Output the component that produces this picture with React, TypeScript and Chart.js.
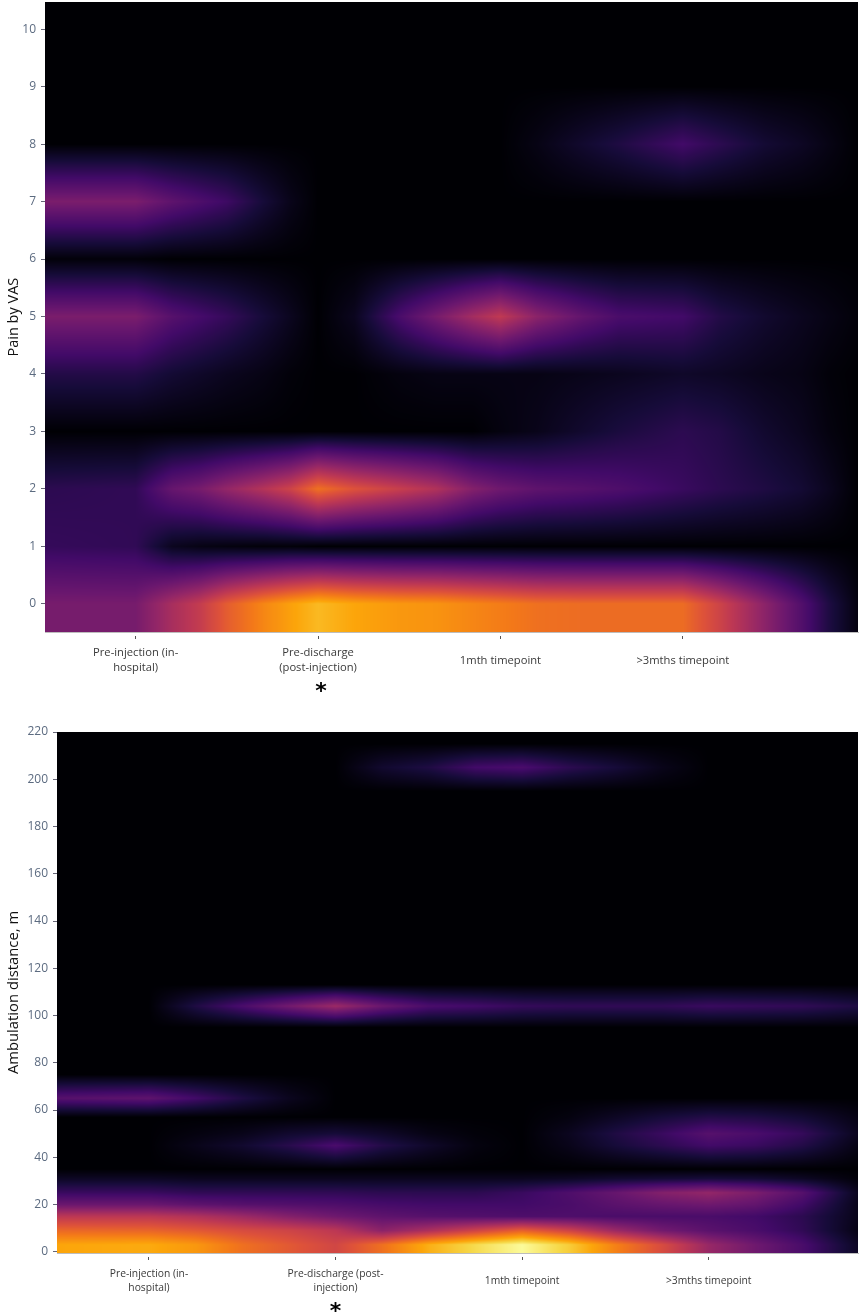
import React, { useEffect, useRef } from "react";
import { Chart, registerables } from "chart.js";

Chart.register(...registerables);

// ---------- Chart 1: Pain by VAS ----------
const painLabels = [["Pre-injection (in-", "hospital)"], ["Pre-discharge", "(post-injection)"], ["1mth timepoint"], [">3mths timepoint"]];
const painTicksX = [0, 1, 2, 3];
const painTicksY = [0, 1, 2, 3, 4, 5, 6, 7, 8, 9, 10];
const painColumns = [-0.5, 0, 0.2, 0.35, 0.5, 0.7, 0.85, 1, 1.2, 1.45, 1.65, 1.85, 2, 2.2, 2.45, 2.65, 3, 3.2, 3.45, 3.65, 3.8, 3.96];
const painLevels = [0, 1, 2, 3, 4, 5, 6, 7, 8, 9, 10];
const pain0 = [.33, .33, .45, .52, .63, .73, .79, .84, .80, .77, .76, .73, .71, .68, .67, .67, .67, .55, .38, .24, .12, .02];
const pain1 = [.17, .16, .05, .03, .02, .01, .01, 0, 0, 0, 0, 0, 0, 0, 0, 0, 0, 0, 0, 0, 0, 0];
const pain2 = [.15, .16, .29, .33, .40, .48, .55, .68, .60, .53, .47, .36, .31, .27, .25, .23, .18, .15, .12, .09, .05, 0];
const pain3 = [0, 0, 0, 0, 0, 0, 0, 0, 0, 0, 0, 0, .02, .04, .08, .11, .15, .13, .08, .05, .02, 0];
const pain4 = [.13, .13, .09, .07, .05, .03, .01, 0, 0, .02, .03, .03, .03, .03, .04, .05, .07, .06, .04, .03, .01, 0];
const pain5 = [.34, .34, .25, .21, .17, .10, .05, 0, .05, .22, .33, .44, .51, .38, .28, .22, .20, .13, .08, .05, .03, .01];
const pain6 = [.01, .01, 0, 0, 0, 0, 0, 0, 0, 0, 0, 0, 0, 0, 0, 0, 0, 0, 0, 0, 0, 0];
const pain7 = [.34, .34, .27, .23, .19, .10, .04, 0, 0, 0, 0, 0, 0, 0, 0, 0, 0, 0, 0, 0, 0, 0];
const pain8 = [0, 0, 0, 0, 0, 0, 0, 0, 0, 0, 0, 0, 0, .03, .08, .12, .20, .15, .09, .06, .03, 0];
const pain9 = [0, 0, 0, 0, 0, 0, 0, 0, 0, 0, 0, 0, 0, 0, 0, 0, 0, 0, 0, 0, 0, 0];
const pain10 = [0, 0, 0, 0, 0, 0, 0, 0, 0, 0, 0, 0, 0, 0, 0, 0, 0, 0, 0, 0, 0, 0];
const painRows = [pain0, pain1, pain2, pain3, pain4, pain5, pain6, pain7, pain8, pain9, pain10];

// ---------- Chart 2: Ambulation distance ----------
const ambLabels = [["Pre-injection (in-", "hospital)"], ["Pre-discharge (post-", "injection)"], ["1mth timepoint"], [">3mths timepoint"]];
const ambTicksX = [0, 1, 2, 3];
const ambTicksY = [0, 20, 40, 60, 80, 100, 120, 140, 160, 180, 200, 220];
const ambColumns = [-0.5, 0, .25, .5, .75, 1, 1.25, 1.5, 1.75, 2, 2.25, 2.5, 2.75, 3, 3.25, 3.5, 3.8];
const ambLevels = [3, 9, 15, 20, 25, 31, 35, 45, 50, 57, 65, 75, 95, 104, 113, 195, 205, 215];
const amb3 = [.80, .81, .77, .68, .62, .56, .68, .82, .91, .99, .88, .72, .58, .41, .31, .22, .06];
const amb9 = [.66, .65, .62, .58, .55, .50, .38, .46, .55, .64, .55, .42, .32, .26, .22, .16, .03];
const amb15 = [.50, .50, .47, .42, .36, .31, .27, .25, .24, .23, .23, .22, .22, .22, .20, .15, .04];
const amb20 = [.30, .30, .27, .25, .24, .23, .21, .20, .20, .20, .22, .26, .29, .31, .28, .20, .04];
const amb25 = [.18, .18, .16, .16, .16, .16, .15, .15, .15, .18, .23, .29, .36, .40, .34, .25, .05];
const amb31 = [.06, .06, .05, .05, .05, .05, .05, .05, .05, .05, .06, .08, .09, .10, .09, .06, .01];
const amb35 = [0, 0, 0, 0, 0, 0, 0, 0, 0, 0, 0, 0, 0, 0, 0, 0, 0];
const amb45 = [0, 0, .04, .08, .14, .22, .13, .07, .02, 0, .04, .10, .15, .20, .18, .13, .03];
const amb50 = [0, 0, .02, .04, .08, .10, .07, .03, .01, 0, .05, .12, .18, .25, .22, .17, .05];
const amb57 = [0, 0, 0, 0, 0, 0, 0, 0, 0, 0, .02, .06, .10, .13, .12, .09, .03];
const amb65 = [.25, .27, .20, .12, .05, 0, 0, 0, 0, 0, 0, 0, 0, 0, 0, 0, 0];
const amb75 = [0, 0, 0, 0, 0, 0, 0, 0, 0, 0, 0, 0, 0, 0, 0, 0, 0];
const amb95 = [0, 0, 0, 0, 0, 0, 0, 0, 0, 0, 0, 0, 0, 0, 0, 0, 0];
const amb104 = [0, 0, .12, .22, .32, .42, .30, .22, .20, .17, .16, .16, .16, .18, .17, .16, .12];
const amb113 = [0, 0, 0, 0, 0, 0, 0, 0, 0, 0, 0, 0, 0, 0, 0, 0, 0];
const amb195 = [0, 0, 0, 0, 0, 0, 0, 0, 0, 0, 0, 0, 0, 0, 0, 0, 0];
const amb205 = [0, 0, 0, 0, 0, 0, .08, .12, .20, .22, .15, .10, .04, 0, 0, 0, 0];
const amb215 = [0, 0, 0, 0, 0, 0, 0, 0, 0, 0, 0, 0, 0, 0, 0, 0, 0];
const ambRows = [amb3, amb9, amb15, amb20, amb25, amb31, amb35, amb45, amb50, amb57, amb65, amb75, amb95, amb104, amb113, amb195, amb205, amb215];

const inferno = ["#000004", "#160b39", "#420a68", "#6a176e", "#932667", "#bc3754", "#dd513a", "#f37819", "#fca50a", "#f6d746", "#fcffa4"]
  .map((h) => [1, 3, 5].map((i) => parseInt(h.slice(i, i + 2), 16)));

const colourOf = (v: number) => {
  const t = Math.max(0, Math.min(1, v)) * (inferno.length - 1);
  const i = Math.min(inferno.length - 2, Math.floor(t));
  const f = t - i;
  return inferno[i].map((c, k) => c + (inferno[i + 1][k] - c) * f);
};

// Bilinear pixel painter: reads the grid, places it through the chart's scales.
const heatPlugin = {
  id: "heat",
  beforeDatasetsDraw(chart: any, _a: any, opts: any) {
    const { ctx, chartArea: area, scales } = chart;
    const { xs, ys, rows } = opts;
    const left = Math.round(area.left), top = Math.round(area.top);
    const w = Math.round(area.right) - left, h = Math.round(area.bottom) - top;
    const img = ctx.createImageData(w, h);
    const evalRow = (ri: number, x: number) => {
      const r = rows[ri];
      if (x <= xs[0]) return r[0];
      if (x >= xs[xs.length - 1]) return r[r.length - 1];
      let i = 0;
      while (xs[i + 1] < x) i++;
      const t = (x - xs[i]) / (xs[i + 1] - xs[i]);
      return r[i] + (r[i + 1] - r[i]) * t;
    };
    for (let px = 0; px < w; px++) {
      const x = scales.x.getValueForPixel(left + px + 0.5);
      const col = rows.map((_: any, ri: number) => evalRow(ri, x));
      for (let py = 0; py < h; py++) {
        const y = scales.y.getValueForPixel(top + py + 0.5);
        let v;
        if (y <= ys[0]) v = col[0];
        else if (y >= ys[ys.length - 1]) v = col[col.length - 1];
        else {
          let j = 0;
          while (ys[j + 1] < y) j++;
          const t = (y - ys[j]) / (ys[j + 1] - ys[j]);
          v = col[j] + (col[j + 1] - col[j]) * t;
        }
        const c = colourOf(v);
        const o = (py * w + px) * 4;
        img.data[o] = c[0]; img.data[o + 1] = c[1]; img.data[o + 2] = c[2]; img.data[o + 3] = 255;
      }
    }
    const off = document.createElement("canvas");
    off.width = w; off.height = h;
    off.getContext("2d")!.putImageData(img, 0, 0);
    ctx.drawImage(off, left, top);
  },
};

const starPlugin = {
  id: "star",
  afterDraw(chart: any, _a: any, opts: any) {
    const { ctx, scales } = chart;
    ctx.save();
    ctx.fillStyle = "#000";
    ctx.font = "bold 22px 'DejaVu Sans'";
    ctx.textAlign = "center";
    ctx.textBaseline = "alphabetic";
    ctx.fillText("*", scales.x.getPixelForValue(opts.at) + opts.dx, opts.y);
    ctx.restore();
  },
};

type Spec = {
  title: string; labels: string[][]; ticksX: number[]; ticksY: number[];
  xs: number[]; ys: number[]; rows: number[][];
  xMin: number; xMax: number; yMin: number; yMax: number;
  axisW: number; axisH: number; padTop: number; height: number; top: number;
  fontX: number; lineH: number; padX: number; starDx: number; starY: number; titleSize: number;
};

const painSpec: Spec = {
  title: "Pain by VAS", labels: painLabels, ticksX: painTicksX, ticksY: painTicksY,
  xs: painColumns, ys: painLevels, rows: painRows,
  xMin: -0.497, xMax: 3.96, yMin: -0.49, yMax: 10.47,
  axisW: 45, axisH: 68, padTop: 10, height: 708, top: -8, fontX: 11.2, lineH: 1.33, padX: 14, starDx: 3, starY: 706, titleSize: 14.5,
};
const ambSpec: Spec = {
  title: "Ambulation distance, m", labels: ambLabels, ticksX: ambTicksX, ticksY: ambTicksY,
  xs: ambColumns, ys: ambLevels, rows: ambRows,
  xMin: -0.493, xMax: 3.8, yMin: -0.5, yMax: 220,
  axisW: 57, axisH: 63, padTop: 32, height: 616, top: 700, fontX: 10.3, lineH: 1.33, padX: 14, starDx: 0, starY: 618, titleSize: 14.8,
};

function Heat({ s }: { s: Spec }) {
  const ref = useRef<HTMLCanvasElement>(null);
  useEffect(() => {
    const points = s.ys.flatMap((y, r) => s.xs.map((x, c) => ({ x, y, v: s.rows[r][c] })));
    const tickFont = { family: "'Open Sans'", size: 12 };
    const chart = new Chart(ref.current!, {
      type: "scatter",
      data: { datasets: [{ data: points, pointRadius: 0, pointHoverRadius: 0 }] },
      plugins: [heatPlugin, starPlugin],
      options: {
        animation: false,
        responsive: false,
        layout: { padding: { top: s.padTop, right: 3, left: 0, bottom: 0 } },
        plugins: {
          legend: { display: false },
          tooltip: { enabled: false },
          heat: { xs: s.xs, ys: s.ys, rows: s.rows },
          star: { at: 1, dx: s.starDx, y: s.starY },
        } as any,
        scales: {
          x: {
            type: "linear", min: s.xMin, max: s.xMax,
            afterBuildTicks: (sc: any) => { sc.ticks = s.ticksX.map((value) => ({ value })); },
            afterFit: (sc: any) => { sc.height = s.axisH; },
            border: { display: true, color: "#bdbdbd" },
            grid: { drawOnChartArea: false, tickLength: 7, color: "#555", tickBorderDash: [0, 3, 4, 100] },
            ticks: {
              autoSkip: false, maxRotation: 0, padding: s.padX, color: "#3a3a3a", crossAlign: "center",
              font: { family: "'Open Sans'", size: s.fontX, lineHeight: s.lineH },
              callback: (_v: any, i: number) => s.labels[i],
            },
          },
          y: {
            type: "linear", min: s.yMin, max: s.yMax,
            afterBuildTicks: (sc: any) => { sc.ticks = s.ticksY.map((value) => ({ value })); },
            afterFit: (sc: any) => { sc.width = s.axisW; },
            border: { display: true, color: "#bdbdbd" },
            grid: { drawOnChartArea: false, tickLength: 6, color: "#667", tickBorderDash: [0, 2, 4, 100] },
            ticks: { padding: 3, color: "#5c6b80", font: tickFont, callback: (v: any) => String(v) },
            title: { display: true, text: s.title, color: "#111", font: { family: "'Open Sans'", size: s.titleSize }, padding: { top: 5, bottom: 0 } },
          },
        },
      } as any,
    });
    return () => chart.destroy();
  }, [s]);
  return (
    <canvas
      ref={ref}
      width={861}
      height={s.height}
      style={{ position: "absolute", left: 0, top: s.top, width: 861, height: s.height, display: "block" }}
    />
  );
}

export default function App() {
  return (
    <div style={{ position: "absolute", left: 0, top: 0, width: 861, height: 1316, background: "#fff", overflow: "hidden" }}>
      <Heat s={painSpec} />
      <Heat s={ambSpec} />
    </div>
  );
}
